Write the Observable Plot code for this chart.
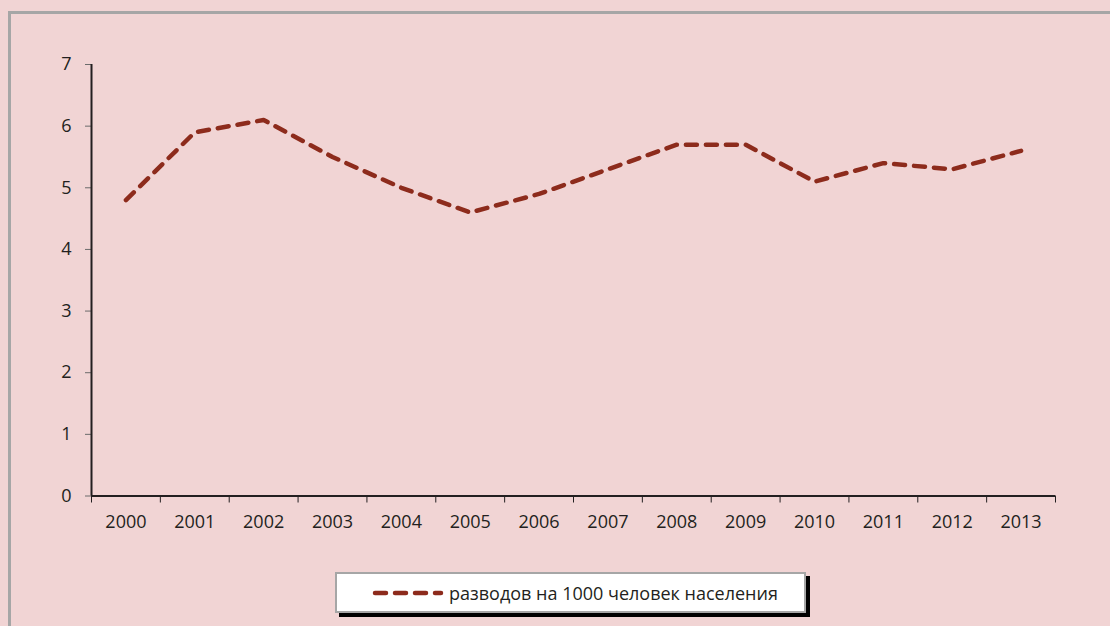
<!DOCTYPE html>
<html>
<head>
<meta charset="utf-8">
<script src="https://cdn.jsdelivr.net/npm/d3@7"></script>
<script src="https://cdn.jsdelivr.net/npm/@observablehq/plot@0.6"></script>
<style>
  html, body { margin: 0; padding: 0; }
  #wrap { position: relative; width: 1110px; height: 626px; background: #f1d4d4; overflow: hidden; font-family: "Open Sans", sans-serif; }
  #frame { position: absolute; left: 8px; top: 11px; width: 1300px; height: 800px; border: 3px solid #a6a6a6; }
  #chart { position: absolute; left: 0; top: 0; }
  #legend { position: absolute; left: 335px; top: 572px; width: 471px; height: 41px; box-sizing: border-box;
            background: #fff; border: 2px solid #a6a6a6; box-shadow: 4px 4px 0 #000;
            display: flex; align-items: center; }
  #legend svg { margin-left: 35px; }
  #legend span { margin-left: 5px; font-size: 18px; color: #231f20; white-space: nowrap; }
</style>
</head>
<body>
<div id="wrap">
  <div id="frame"></div>
  <div id="chart"></div>
  <div id="legend"></div>
</div>
<script>
const years = [2000, 2001, 2002, 2003, 2004, 2005, 2006, 2007, 2008, 2009, 2010, 2011, 2012, 2013];
const divorces = [4.8, 5.9, 6.1, 5.5, 5.0, 4.6, 4.9, 5.3, 5.7, 5.7, 5.1, 5.4, 5.3, 5.6];
const yTicks = [0, 1, 2, 3, 4, 5, 6, 7];
const seriesName = "разводов на 1000 человек населения";

const lineColor = "#8d2b1c";
const axisColor = "#231f20";
const data = years.map((year, i) => ({year, value: divorces[i]}));
const xMin = years[0] - 0.5;
const xMax = years[years.length - 1] + 0.5;
const boundaries = [...years.map(y => y - 0.5), xMax];

const chart = Plot.plot({
  width: 1110,
  height: 540,
  marginLeft: 91,
  marginRight: 55,
  marginTop: 64,
  marginBottom: 44.5,
  style: { background: "transparent", fontFamily: "'Open Sans', sans-serif", fontSize: "18px", color: axisColor },
  x: { domain: [xMin, xMax], axis: null },
  y: { domain: [0, 7], axis: null },
  marks: [
    Plot.axisY({ ticks: yTicks, tickSize: 6, tickPadding: 14, stroke: "#6b6b6b", fill: axisColor, tickFormat: d => String(d), label: null }),
    Plot.axisX({ ticks: boundaries, tickSize: 7, stroke: axisColor, tickFormat: () => "", label: null }),
    Plot.axisX({ ticks: years, tickSize: 0, tickPadding: 19, fill: axisColor, tickFormat: d => String(d), label: null }),
    Plot.ruleX([xMin], { y1: 0, y2: 7, stroke: axisColor, strokeWidth: 2 }),
    Plot.ruleY([0], { x1: xMin, x2: xMax, stroke: axisColor, strokeWidth: 2 }),
    Plot.line(data, { x: "year", y: "value", stroke: lineColor, strokeWidth: 4.5, strokeDasharray: "11,9", strokeLinecap: "round", strokeLinejoin: "round" })
  ]
});
document.getElementById("chart").appendChild(chart);

const legend = document.getElementById("legend");
legend.innerHTML = `<svg width="72" height="10"><line x1="3" y1="5" x2="69" y2="5" stroke="${lineColor}" stroke-width="4.5" stroke-dasharray="11,9" stroke-linecap="round"/></svg><span>${seriesName}</span>`;
</script>
</body>
</html>
